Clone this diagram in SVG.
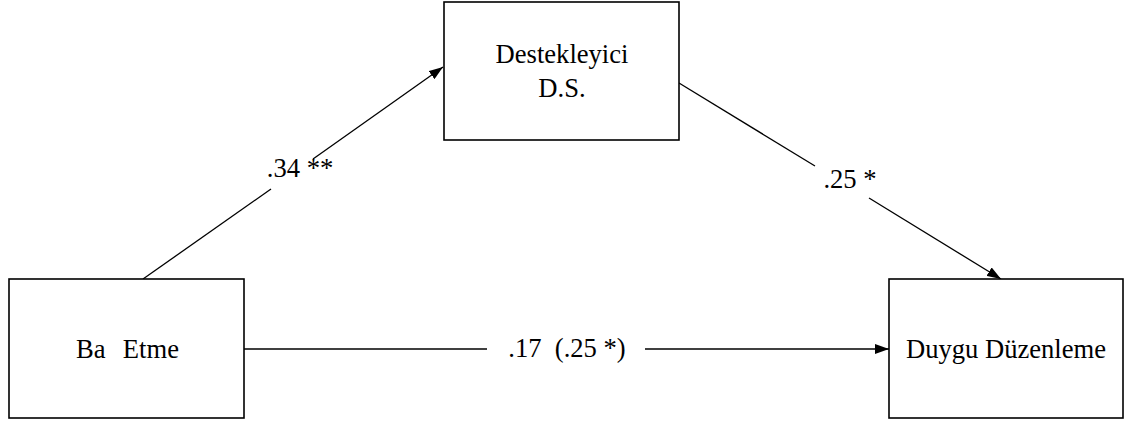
<svg xmlns="http://www.w3.org/2000/svg" width="1130" height="423" viewBox="0 0 1130 423">
<style>
.box{fill:#fff;stroke:#000;stroke-width:1.6}
.ln{stroke:#000;stroke-width:1.3;fill:none}
text{font-family:"Liberation Serif","Times New Roman",serif;font-size:26.6px;fill:#000;white-space:pre}
.c{text-anchor:middle}
</style>
<defs>
<marker id="ah" viewBox="0 0 14 10" refX="14" refY="5" markerWidth="14" markerHeight="10" markerUnits="userSpaceOnUse" orient="auto">
<path d="M0,0 L14,5 L0,10 Z" fill="#000"/>
</marker>
</defs>
<rect width="1130" height="423" fill="#fff"/>
<g id="connectors">
<line class="ln" x1="143" y1="279" x2="271" y2="189"/>
<line class="ln" x1="313" y1="159" x2="443" y2="67" marker-end="url(#ah)"/>
<line class="ln" x1="679" y1="83" x2="815" y2="166"/>
<line class="ln" x1="869" y1="198" x2="1001" y2="279" marker-end="url(#ah)"/>
<line class="ln" x1="244" y1="349" x2="487" y2="349"/>
<line class="ln" x1="645" y1="349" x2="889" y2="349" marker-end="url(#ah)"/>
<text class="c" x="300" y="177">.34 **</text>
<text class="c" x="850" y="188">.25 *</text>
<text class="c" x="567" y="357">.17  (.25 *)</text>
</g>
<g id="node-bas-etme">
<rect class="box" x="9" y="279" width="235" height="139"/>
<text x="76" y="358">Ba  <tspan dx="4">Etme</tspan></text>
</g>
<g id="node-destekleyici">
<rect class="box" x="444" y="2" width="235" height="138"/>
<text class="c" x="562" y="63">Destekleyici</text>
<text class="c" x="562" y="97">D.S.</text>
</g>
<g id="node-duygu">
<rect class="box" x="889" y="279" width="234" height="139"/>
<text class="c" x="1006" y="358">Duygu Düzenleme</text>
</g>
</svg>
